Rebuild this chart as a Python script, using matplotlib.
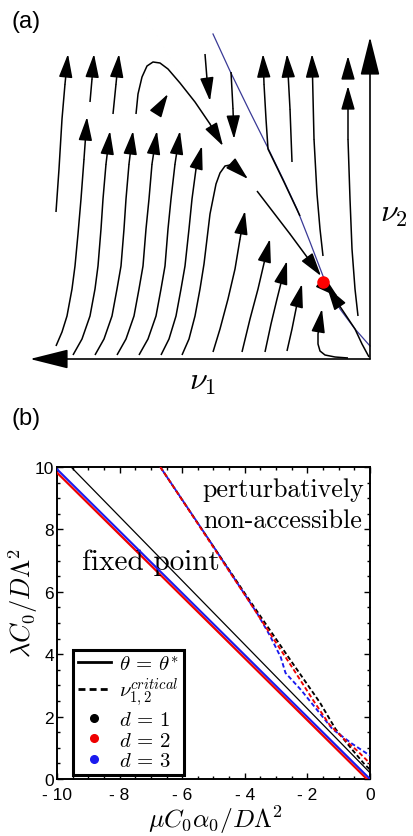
import matplotlib
matplotlib.use('Agg')
import matplotlib.pyplot as plt
from matplotlib.lines import Line2D
from matplotlib.ticker import MultipleLocator, FixedLocator

plt.rcParams['mathtext.fontset'] = 'cm'
plt.rcParams['font.family'] = ['Liberation Sans', 'DejaVu Sans']

# ---------------- panel (a): flow diagram, streamlines
# (picture units: x to the right, y downward)
stream_01 = [(56, 213), (59, 170), (62, 120), (65, 85), (68, 55)]
stream_02 = [(90, 103), (92, 80), (94, 55)]
stream_03 = [(113, 115), (116, 85), (119, 55)]
stream_04 = [(136, 115), (138, 95), (142, 78), (147, 67), (153, 63), (160, 64),
             (168, 70), (180, 84), (195, 103), (210, 125), (223, 147)]
stream_05 = [(163, 103), (168, 95)]
stream_06 = [(205, 55), (207, 80), (210, 102)]
stream_07 = [(231, 73), (233, 110), (234, 140)]
stream_08 = [(300, 217), (284, 183), (268, 150), (266, 120), (264, 85), (263, 55)]
stream_09 = [(292, 163), (290, 110), (287, 55)]
stream_10 = [(323, 257), (320, 230), (317, 195), (314, 140), (312, 55)]
stream_11 = [(348, 73), (348, 57)]
stream_12 = [(358, 317), (355, 290), (352, 250), (350, 200), (348, 140), (348, 87)]
stream_13 = [(56, 347), (62, 333), (67, 317), (72, 290), (75, 267), (78, 235),
             (81, 200), (84, 160), (87, 118)]
stream_14 = [(73, 356), (82, 340), (90, 317), (95, 290), (98, 267), (101, 230),
             (103, 200), (106, 165), (110, 132)]
stream_15 = [(95, 356), (104, 340), (112, 317), (117, 290), (121, 267), (124, 230),
             (126, 200), (129, 165), (133, 132)]
stream_16 = [(117, 356), (126, 340), (134, 317), (139, 290), (143, 267), (146, 230),
             (149, 200), (152, 165), (157, 132)]
stream_17 = [(139, 356), (148, 340), (156, 317), (161, 290), (165, 267), (168, 230),
             (171, 200), (175, 165), (180, 132)]
stream_18 = [(161, 356), (169, 340), (176, 317), (181, 290), (185, 267), (189, 230),
             (192, 200), (196, 170), (202, 147)]
stream_19 = [(182, 356), (189, 340), (195, 317), (200, 290), (204, 265), (207, 240),
             (210, 215), (213, 200), (216, 185), (220, 174), (225, 167), (230, 166),
             (236, 169), (248, 180)]
stream_20 = [(257, 192), (290, 235), (321, 277)]
stream_21 = [(213, 353), (220, 330), (228, 300), (235, 270), (240, 240), (245, 212)]
stream_22 = [(242, 353), (250, 320), (258, 290), (265, 260), (270, 240)]
stream_23 = [(265, 353), (271, 325), (277, 300), (282, 280), (287, 262)]
stream_24 = [(287, 352), (292, 330), (297, 305), (302, 285)]
stream_25 = [(348, 359), (335, 358), (325, 356), (320, 352), (318, 345), (318, 335),
             (320, 322), (322, 310)]
stream_26 = [(369, 358), (362, 345), (355, 330), (345, 315), (335, 300), (327, 288)]
stream_27 = [(331, 292), (338, 298)]
streamlines = [stream_01, stream_02, stream_03, stream_04, stream_05, stream_06,
               stream_07, stream_08, stream_09, stream_10, stream_11, stream_12,
               stream_13, stream_14, stream_15, stream_16, stream_17, stream_18,
               stream_19, stream_20, stream_21, stream_22, stream_23, stream_24,
               stream_25, stream_26, stream_27]
arrow_only = [stream_05, stream_11, stream_27]

separatrix_x = [213, 230, 250, 267, 283, 297, 310, 323, 332, 340, 355, 370]
separatrix_y = [35, 72, 113, 147, 180, 210, 243, 277, 295, 310, 330, 347]
fixed_point = (323, 283)
axis_origin = (370, 360)
axis_nu1_end = (30, 360)
axis_nu2_end = (370, 38)

# ---------------- panel (b): phase boundaries
x_ticks = [-10, -8, -6, -4, -2, 0]
y_ticks = [0, 2, 4, 6, 8, 10]
x_tick_labels = ['- 10', '- 8', '- 6', '- 4', '- 2', '0']
y_tick_labels = ['0', '2', '4', '6', '8', '10']

theta_d1_x = [-9.55, 0.0]
theta_d1_y = [10.0, 0.2]
theta_d2_x = [-10.0, -0.1]
theta_d2_y = [9.82, 0.0]
theta_d3_x = [-10.0, 0.0]
theta_d3_y = [9.93, 0.0]

crit_d1_x = [-6.7, -4.0, -2.5, -1.6, -1.1, -0.6, -0.2, 0.0]
crit_d1_y = [10.0, 5.95, 3.75, 2.45, 1.6, 0.98, 0.5, 0.3]
crit_d2_x = [-6.7, -4.0, -2.5, -1.8, -1.3, -0.8, -0.4, 0.0]
crit_d2_y = [10.0, 5.9, 3.6, 2.5, 1.75, 1.25, 0.9, 0.5]
crit_d3_x = [-6.7, -5.0, -3.6, -3.2, -2.85, -2.7, -2.2, -1.6, -1.2, -0.6, 0.0]
crit_d3_y = [10.0, 7.45, 5.3, 4.6, 3.9, 3.4, 2.85, 2.1, 1.6, 1.15, 0.75]

dim_colors = ['black', '#ee0000', '#1a1aee']
dim_labels = [r'$d\,=\,1$', r'$d\,=\,2$', r'$d\,=\,3$']

W, H = 414, 837
fig = plt.figure(figsize=(W / 100, H / 100), dpi=100)

# ---- panel (a)
axa = fig.add_axes([0, 1 - 400 / H, 1, 400 / H])
axa.set_xlim(0, W)
axa.set_ylim(400, 0)
axa.axis('off')

axa.plot(separatrix_x, separatrix_y, color='#3a3a96', lw=0.9, zorder=2)
for s in streamlines:
    xs = [p[0] for p in s]
    ys = [p[1] for p in s]
    if s not in arrow_only:
        axa.plot(xs[:-1], ys[:-1], color='black', lw=1.1, solid_capstyle='butt', zorder=3)
    axa.annotate('', xy=s[-1], xytext=s[-2],
                 arrowprops=dict(arrowstyle='-|>,head_length=1.45,head_width=0.42',
                                 mutation_scale=10, color='black', lw=1.1,
                                 shrinkA=0, shrinkB=0), zorder=3)
for end in (axis_nu1_end, axis_nu2_end):
    axa.annotate('', xy=end, xytext=axis_origin,
                 arrowprops=dict(arrowstyle='-|>,head_length=1.2,head_width=0.3',
                                 mutation_scale=20, color='black', lw=1.2,
                                 shrinkA=0, shrinkB=0), zorder=4)
axa.plot(*fixed_point, 'o', color='#ff0000', ms=9, mec='none', zorder=5)
axa.text(203, 390, r'$\nu_1$', fontsize=23, ha='center', va='baseline')
axa.text(380, 222, r'$\nu_2$', fontsize=23, ha='left', va='baseline')
fig.text(12 / W, 1 - 11 / H, '(a)', fontsize=17, ha='left', va='top')
fig.text(12 / W, 1 - 408 / H, '(b)', fontsize=17, ha='left', va='top')

# ---- panel (b)
axb = fig.add_axes([57 / W, 1 - 780 / H, 313 / W, 312 / H])
axb.set_xlim(-10, 0)
axb.set_ylim(0, 10)
axb.plot(crit_d1_x, crit_d1_y, color=dim_colors[0], lw=1.35, ls=(0, (2.4, 1.4)), zorder=2)
axb.plot(crit_d3_x, crit_d3_y, color=dim_colors[2], lw=1.35, ls=(1.9, (2.4, 1.4)), zorder=3)
axb.plot(crit_d2_x, crit_d2_y, color=dim_colors[1], lw=1.35, ls=(0, (2.4, 1.4)), zorder=4)
axb.plot(theta_d1_x, theta_d1_y, color=dim_colors[0], lw=0.9, zorder=2)
axb.plot(theta_d2_x, theta_d2_y, color=dim_colors[1], lw=1.6, zorder=3)
axb.plot(theta_d3_x, theta_d3_y, color=dim_colors[2], lw=1.5, zorder=4)

axb.xaxis.set_major_locator(FixedLocator(x_ticks))
axb.yaxis.set_major_locator(FixedLocator(y_ticks))
axb.set_xticklabels(x_tick_labels)
axb.set_yticklabels(y_tick_labels)
axb.xaxis.set_minor_locator(MultipleLocator(0.5))
axb.yaxis.set_minor_locator(MultipleLocator(0.5))
axb.tick_params(which='both', direction='in', top=True, right=True, width=1.0)
axb.tick_params(which='major', length=4.5, labelsize=12.5, pad=2)
axb.tick_params(axis='x', which='major', pad=6)
axb.tick_params(which='minor', length=2.2)
for sp in axb.spines.values():
    sp.set_linewidth(1.4)

axb.text(-9.2, 6.72, 'fixed point', fontfamily='cmr10', fontsize=21, ha='left', va='baseline')
axb.text(-5.34, 9.07, 'perturbatively', fontfamily='cmr10', fontsize=18.7, ha='left', va='baseline')
axb.text(-5.34, 8.08, 'non-accessible', fontfamily='cmr10', fontsize=18.7, ha='left', va='baseline')

handles = [Line2D([], [], color='black', lw=2.0),
           Line2D([], [], color='black', lw=2.0, dashes=(2.5, 1.5))]
labels = [r'$\theta\,=\,\theta^{*}$', r'$\nu_{1,2}^{critical}$']
for c, lab in zip(dim_colors, dim_labels):
    handles.append(Line2D([], [], ls='none', marker='o', ms=5.5, color=c))
    labels.append(lab)
leg = axb.legend(handles, labels, loc='upper left', bbox_to_anchor=(0.051, 0.413),
                 borderaxespad=0, fontsize=15, handlelength=1.6, handletextpad=0.4,
                 labelspacing=0.08, borderpad=0.22, fancybox=False, framealpha=1)
leg.get_frame().set_edgecolor('black')
leg.get_frame().set_linewidth(2.2)

fig.text(215 / W, 1 - 828 / H, r'$\mu C_0\alpha_0/D\Lambda^2$', fontsize=18.5,
         ha='center', va='baseline')
fig.text(23 / W, 1 - 603 / H, r'$\lambda C_0/D\Lambda^2$', fontsize=19,
         ha='center', va='center', rotation=90)

fig.savefig('out.png', dpi=100)
